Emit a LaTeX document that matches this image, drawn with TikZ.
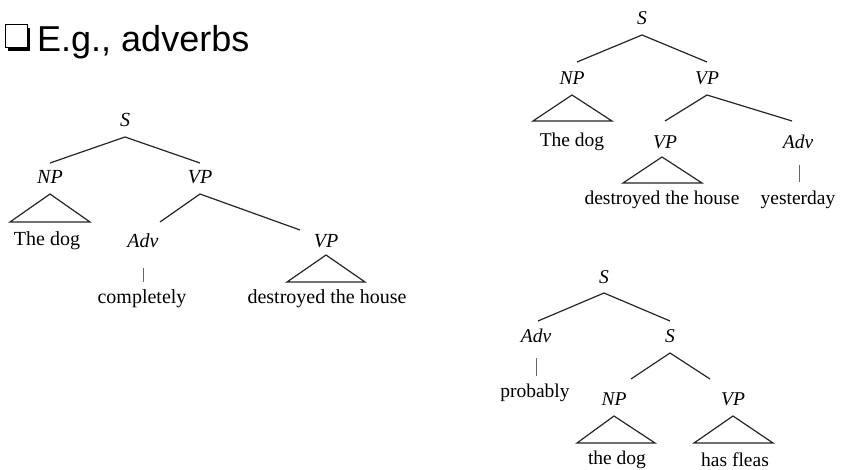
\documentclass[tikz,border=0pt]{standalone}
\usepackage{fontspec}
\setmainfont{Liberation Serif}
\newfontfamily\arialfont{Liberation Sans}
\begin{document}
\begin{tikzpicture}[x=1pt,y=-1pt,
  cat/.style={inner sep=0pt,font=\fontsize{20}{24}\selectfont\itshape},
  word/.style={inner sep=0pt,font=\fontsize{20}{24}\selectfont},
  catr/.style={inner sep=0pt,font=\fontsize{19.5}{23}\selectfont\itshape},
  wordr/.style={inner sep=0pt,font=\fontsize{19.5}{23}\selectfont},
  edge/.style={draw=black!85,line width=1.2pt},
  vline/.style={draw=black!60,line width=0.9pt},
  tri/.style={draw=black!85,line width=1.2pt}]
\useasboundingbox[fill=white] (0,0) rectangle (841,470);

% title
\fill[black] (8,28) rectangle (30,51);
\draw[fill=white,line width=1pt] (5,25) rectangle (27,48);
\node[anchor=base west,inner sep=0pt,font=\arialfont\fontsize{36}{40}\selectfont] (title) at (37,52) {E.g., adverbs};

% ---------- left tree ----------
\node[cat] (l-s) at (125,120) {S};
\node[cat] (l-np) at (50,177) {NP};
\node[cat] (l-vp) at (200,177) {VP};
\node[word] (l-dog) at (47,241) {The dog};
\node[cat] (l-adv) at (143,241) {Adv};
\node[cat] (l-vp2) at (326,241) {VP};
\node[word] (l-comp) at (142,299) {completely};
\node[word] (l-dest) at (327,299) {destroyed the house};
\coordinate (l-s-a) at (125,137);
\coordinate (l-np-t) at (50,163);
\coordinate (l-vp-t) at (200,163);
\coordinate (l-vp-a) at (200,194);
\coordinate (l-adv-t) at (160,222);
\coordinate (l-vp2-t) at (300,230);
\draw[edge] (l-np-t) -- (l-s-a) -- (l-vp-t);
\draw[edge] (l-adv-t) -- (l-vp-a) -- (l-vp2-t);
\draw[tri] (50,194) -- (10,222) -- (90,222) -- cycle;
\draw[vline] (143,268) -- (143,282);
\draw[tri] (326,255) -- (287,282) -- (365,282) -- cycle;

% ---------- right top tree ----------
\node[catr] (t-s) at (642,18) {S};
\node[catr] (t-np) at (572,78) {NP};
\node[catr] (t-vp) at (707,78) {VP};
\node[wordr] (t-dog) at (572,142) {The dog};
\node[catr] (t-vp2) at (665,142) {VP};
\node[catr] (t-adv) at (798,142) {Adv};
\node[wordr] (t-dest) at (662,200) {destroyed the house};
\node[wordr] (t-yest) at (798,200) {yesterday};
\coordinate (t-s-a) at (642,35);
\coordinate (t-np-t) at (577,62);
\coordinate (t-vp-t) at (707,62);
\coordinate (t-vp-a) at (707,95);
\coordinate (t-vp2-t) at (665,121);
\coordinate (t-adv-t) at (792,121);
\draw[edge] (t-np-t) -- (t-s-a) -- (t-vp-t);
\draw[edge] (t-vp2-t) -- (t-vp-a) -- (t-adv-t);
\draw[tri] (572,95) -- (533,121) -- (612,121) -- cycle;
\draw[tri] (662,157) -- (623,183) -- (702,183) -- cycle;
\draw[vline] (799,165) -- (799,182);

% ---------- right bottom tree ----------
\node[catr] (b-s) at (604,277) {S};
\node[catr] (b-adv) at (536,336) {Adv};
\node[catr] (b-s2) at (670,336) {S};
\node[wordr] (b-prob) at (535,393) {probably};
\node[catr] (b-np) at (614,399) {NP};
\node[catr] (b-vp) at (733,399) {VP};
\node[wordr] (b-dog) at (617,460) {the dog};
\node[wordr] (b-flea) at (735,460) {has fleas};
\coordinate (b-s-a) at (604,293);
\coordinate (b-adv-t) at (538,321);
\coordinate (b-s2-t) at (670,321);
\coordinate (b-s2-a) at (670,353);
\coordinate (b-np-t) at (631,379);
\coordinate (b-vp-t) at (710,379);
\draw[edge] (b-adv-t) -- (b-s-a) -- (b-s2-t);
\draw[edge] (b-np-t) -- (b-s2-a) -- (b-vp-t);
\draw[vline] (536,358) -- (536,376);
\draw[tri] (614,416) -- (577,443) -- (655,443) -- cycle;
\draw[tri] (733,416) -- (694,443) -- (773,443) -- cycle;
\end{tikzpicture}
\end{document}
